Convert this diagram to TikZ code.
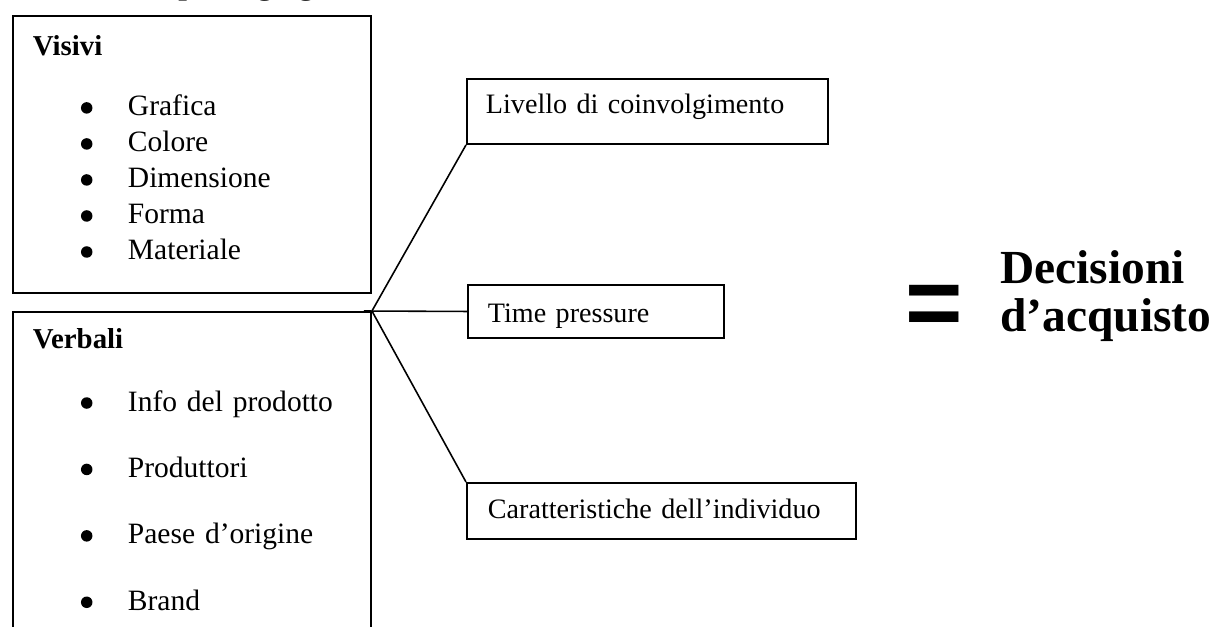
\documentclass[tikz,border=0pt]{standalone}
\usepackage{fontspec}
\setmainfont{Liberation Serif}
\newfontfamily\eqfont{Liberation Sans}
\usetikzlibrary{positioning}
\tikzstyle{groupbox} = [rectangle, draw=black, line width=1.1pt, anchor=north west, inner xsep=0.4cm, inner ysep=0pt, align=left]
\tikzstyle{factor} = [rectangle, draw=black, line width=1.1pt, anchor=north west, inner ysep=0pt, align=left, font=\fontsize{16}{19}\selectfont]
\tikzstyle{link} = [line width=0.9pt]
\newcommand{\itm}[1]{\hspace*{0.96cm}\makebox[0.94cm][l]{\tikz[baseline=0pt]\fill (0,0.16) circle (0.115);}#1}
\newcommand{\grouphead}[1]{{\fontsize{16.4}{20}\selectfont\bfseries #1}}

\begin{document}
\begin{tikzpicture}
                \useasboundingbox (0,0) rectangle (24.46,-12.52);
                \node (header) [anchor=base west, inner sep=0pt, font=\fontsize{17.6}{20}\selectfont\bfseries] at (3.56,0.105) {packaging};

                % left: the two groups of stimuli
                \node (visivi) [groupbox, text width=6.36cm, text height=0.8cm, text depth=4.74cm, font=\fontsize{16.8}{20.5}\selectfont] at (0.24,-0.30)
                {\grouphead{Visivi}\\[13.6pt]
                 \itm{Grafica}\\
                 \itm{Colore}\\
                 \itm{Dimensione}\\
                 \itm{Forma}\\
                 \itm{Materiale}};
                \node (verbali) [groupbox, text width=6.36cm, text height=0.74cm, text depth=7.04cm, font=\fontsize{16.8}{37.8}\selectfont] at (0.24,-6.22)
                {\grouphead{Verbali}\\[-2.5pt]
                 \itm{Info del prodotto}\\
                 \itm{Produttori}\\
                 \itm{Paese d’origine}\\
                 \itm{Brand}};

                % middle: the factors
                \node (livello) [factor, inner xsep=0.38cm, text width=6.46cm, text height=0.70cm, text depth=0.60cm] at (9.32,-1.56) {Livello di coinvolgimento};
                \node (timep) [factor, inner xsep=0.40cm, text width=4.32cm, text height=0.76cm, text depth=0.30cm] at (9.34,-5.68) {Time pressure};
                \node (caratt) [factor, inner xsep=0.42cm, text width=6.94cm, text height=0.72cm, text depth=0.40cm] at (9.32,-9.64) {Caratteristiche dell’individuo};

                \coordinate (hub) at (verbali.north east);
                \draw [link] (hub) -- (livello.south west);
                \draw [link] ([xshift=-0.16cm]hub) -- (timep.west);
                \draw [link] (hub) -- (caratt.north west);

                % right: the result
                \node (equals) [inner sep=0pt, font=\eqfont\bfseries\fontsize{56}{56}\selectfont] at (18.68,-6.22) {=};
                \node (decisioni) [anchor=base west, text width=5cm, inner sep=0pt, align=left, font=\fontsize{27}{27.5}\selectfont\bfseries] at (20.0,-5.66) {Decisioni\\d’acquisto};
\end{tikzpicture}
\end{document}
